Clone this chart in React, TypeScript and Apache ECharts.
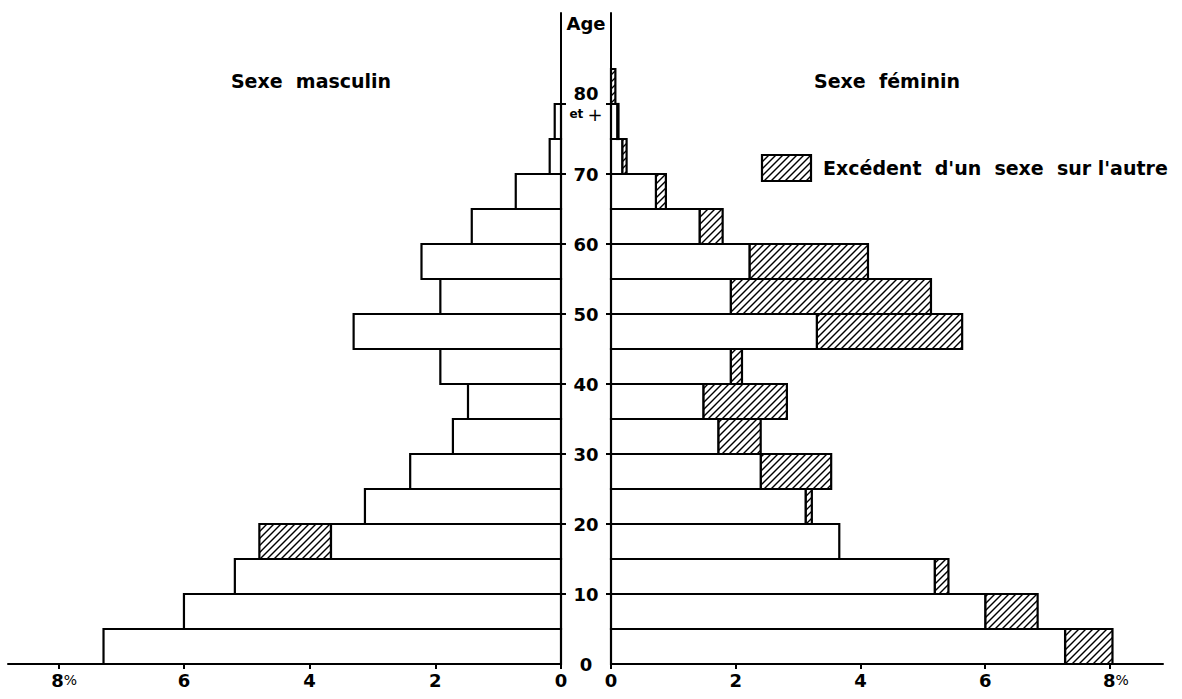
import React, { useEffect, useRef } from 'react';
import * as echarts from 'echarts';

// Age groups (lower bound of each 5-year group; 80 = "80 et +")
const ageStarts = [0, 5, 10, 15, 20, 25, 30, 35, 40, 45, 50, 55, 60, 65, 70, 75, 80];
// Percent of total population, male (left) and female (right)
const male = [7.28, 6.0, 5.19, 4.8, 3.12, 2.4, 1.72, 1.48, 1.92, 3.3, 1.92, 2.22, 1.42, 0.72, 0.18, 0.1, 0];
const female = [8.04, 6.84, 5.41, 3.66, 3.22, 3.53, 2.4, 2.82, 2.1, 5.63, 5.13, 4.12, 1.79, 0.88, 0.25, 0.12, 0.07];
const pctTicks = [0, 2, 4, 6, 8];
const ageTickLabels = [0, 10, 20, 30, 40, 50, 60, 70, 80];
const ageTickMarks = [10, 20, 30, 40, 50, 60, 70, 80];

const titleMale = 'Sexe  masculin';
const titleFemale = 'Sexe  féminin';
const legendText = "Excédent  d'un  sexe  sur l'autre";

const FONT = '"DejaVu Sans", sans-serif';

function hatch(x0: number, y0: number, x1: number, y1: number, step: number) {
  const segs: number[][] = [];
  let c = Math.ceil((x0 + y0) / step) * step;
  for (; c < x1 + y1; c += step) {
    const xa = Math.max(x0, c - y1);
    const xb = Math.min(x1, c - y0);
    if (xb > xa) segs.push([xa, c - xa, xb, c - xb]);
  }
  return segs;
}

function hatchedBox(x0: number, y0: number, x1: number, y1: number): any[] {
  const out: any[] = [];
  out.push({ type: 'rect', shape: { x: x0, y: y0, width: x1 - x0, height: y1 - y0 }, style: { fill: '#fff' } });
  hatch(x0, y0, x1, y1, 7).forEach((s) =>
    out.push({ type: 'line', shape: { x1: s[0], y1: s[1], x2: s[2], y2: s[3] }, style: { stroke: '#000', lineWidth: 1.4 } })
  );
  out.push({
    type: 'rect',
    shape: { x: x0, y: y0, width: x1 - x0, height: y1 - y0 },
    style: { fill: 'none', stroke: '#000', lineWidth: 2.2 },
  });
  return out;
}

function renderSide(mineIdx: number, otherIdx: number) {
  return (params: any, api: any) => {
    const age = api.value(0);
    const mine = api.value(mineIdx);
    const other = api.value(otherIdx);
    const common = Math.min(mine, other);
    const p0 = api.coord([0, age]);
    const xZero = p0[0];
    const yBot = p0[1];
    const yTop = api.coord([0, age + 5])[1];
    const xCommon = api.coord([common, age])[0];
    const xMine = api.coord([mine, age])[0];
    const children: any[] = [];
    if (mine > other) {
      const xa = Math.min(xMine, xCommon);
      const xb = Math.max(xMine, xCommon);
      children.push(...hatchedBox(xa, yTop, xb, yBot));
    }
    if (common > 0) {
      const xa = Math.min(xZero, xCommon);
      const xb = Math.max(xZero, xCommon);
      children.push({
        type: 'rect',
        shape: { x: xa, y: yTop, width: xb - xa, height: yBot - yTop },
        style: { fill: '#fff', stroke: '#000', lineWidth: 2.2 },
      });
    }
    return { type: 'group', children };
  };
}

const baseLabel = { color: '#000', fontFamily: FONT, fontWeight: 'bold', fontSize: 18 };

function pctAxis(grid: number, max: number, inverse: boolean) {
  return {
    gridIndex: grid,
    type: 'value',
    inverse,
    min: 0,
    max,
    interval: 2,
    splitLine: { show: false },
    axisLine: { show: true, onZero: false, lineStyle: { color: '#000', width: 2 } },
    axisTick: { show: true, length: 5, customValues: pctTicks, lineStyle: { color: '#000', width: 2 } },
    axisLabel: {
      ...baseLabel,
      margin: 7,
      customValues: pctTicks,
      formatter: (v: number) => (v === 8 ? '{s| }8{p|%}' : String(v)),
      rich: {
        s: { width: 12, fontSize: 14 },
        p: { fontSize: 14, fontWeight: 'normal', fontFamily: FONT, color: '#000' },
      },
    },
  };
}

function ageAxis(grid: number, position: string, showLabel: boolean) {
  return {
    gridIndex: grid,
    type: 'value',
    position,
    min: 0,
    max: 93,
    interval: 10,
    splitLine: { show: false },
    axisLine: { show: true, onZero: false, lineStyle: { color: '#000', width: 2 } },
    axisTick: { show: true, length: 5, customValues: ageTickMarks, lineStyle: { color: '#000', width: 2 } },
    axisLabel: {
      show: showLabel,
      ...baseLabel,
      align: 'center',
      margin: 25,
      customValues: ageTickLabels,
      formatter: (v: number) => (v === 80 ? '{a|80}\n{b|et }{c|+}' : String(v)),
      rich: {
        a: { fontSize: 18, fontWeight: 'bold', fontFamily: FONT, color: '#000', lineHeight: 20, align: 'center', padding: [0, 0, 2, 0] },
        b: { fontSize: 12, fontWeight: 'bold', fontFamily: FONT, color: '#000', lineHeight: 20 },
        c: { fontSize: 18, fontWeight: 'normal', fontFamily: FONT, color: '#000', lineHeight: 20 },
      },
    },
  };
}

export default function App() {
  const ref = useRef<HTMLDivElement>(null);
  useEffect(() => {
    document.body.style.margin = '0';
    const chart = echarts.init(ref.current as HTMLDivElement, undefined, { renderer: 'svg' });
    const data = ageStarts.map((a, i) => [a, male[i], female[i]]);
    const textStyle = (text: string, x: number, y: number, align: string, size: number) => ({
      type: 'text',
      x,
      y,
      style: {
        text,
        fill: '#000',
        fontFamily: FONT,
        fontWeight: 'bold',
        fontSize: size,
        align,
        verticalAlign: 'middle',
      },
    });
    const option: any = {
      animation: false,
      backgroundColor: '#fff',
      grid: [
        { left: 8, width: 553, top: 13, height: 651 },
        { left: 611, width: 552, top: 13, height: 651 },
      ],
      xAxis: [pctAxis(0, 8.8, true), pctAxis(1, 8.85, false)],
      yAxis: [ageAxis(0, 'right', true), ageAxis(1, 'left', false)],
      series: [
        {
          type: 'custom',
          xAxisIndex: 0,
          yAxisIndex: 0,
          encode: { x: [1, 2], y: 0 },
          renderItem: renderSide(1, 2),
          data,
          clip: false,
          silent: true,
        },
        {
          type: 'custom',
          xAxisIndex: 1,
          yAxisIndex: 1,
          encode: { x: [1, 2], y: 0 },
          renderItem: renderSide(2, 1),
          data,
          clip: false,
          silent: true,
        },
      ],
      graphic: [
        textStyle(titleMale, 311, 81, 'center', 19),
        textStyle(titleFemale, 887, 81, 'center', 19),
        textStyle('Age', 586, 23, 'center', 18),
        { type: 'group', children: hatchedBox(762, 155, 811, 181) },
        textStyle(legendText, 823, 168, 'left', 19),
      ],
    };
    chart.setOption(option);
    return () => chart.dispose();
  }, []);
  return <div ref={ref} style={{ width: 1182, height: 699 }} />;
}
